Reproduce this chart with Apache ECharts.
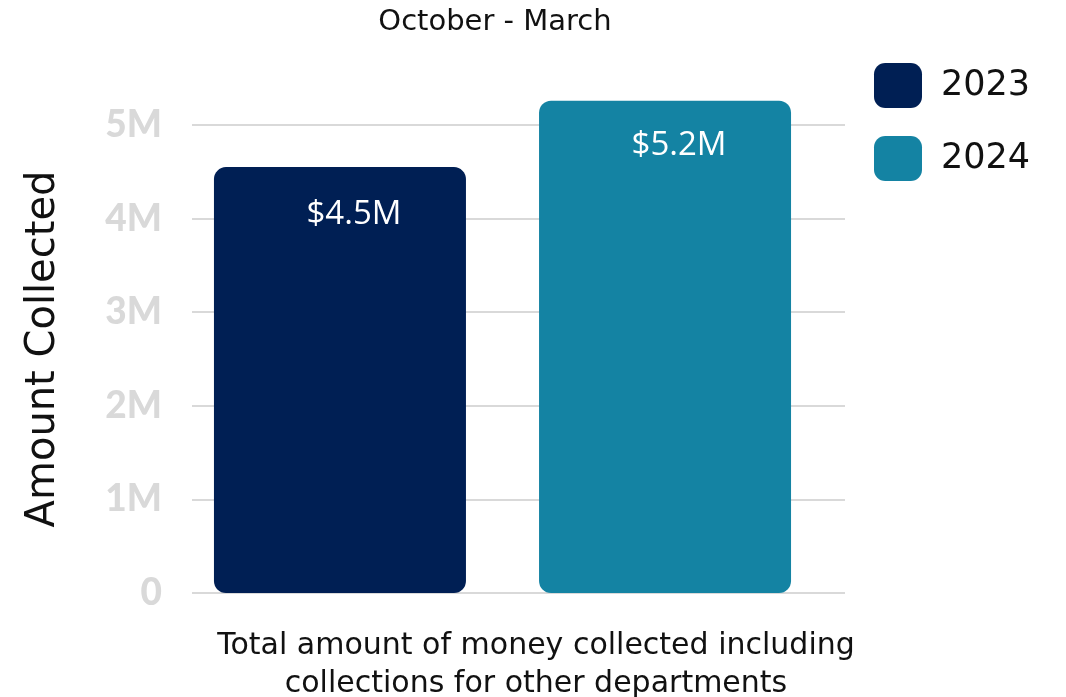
<!DOCTYPE html>
<html>
<head>
<meta charset="utf-8">
<script src="https://cdn.jsdelivr.net/npm/echarts@6/dist/echarts.min.js"></script>
<style>
  html, body { margin: 0; padding: 0; background: #fff; }
  #main { width: 1066px; height: 697px; }
</style>
</head>
<body>
<div id="main"></div>
<script>
// 数据 (单位: 百万)
var years = ['2023', '2024'];
var amounts = [4.55, 5.26];
var barLabels = ['$4.5M', '$5.2M'];
var yTickLabels = ['0', '1M', '2M', '3M', '4M', '5M'];
var colors = ['#001f54', '#1483a3'];

var font = '"DejaVu Sans", sans-serif';

var myChart = echarts.init(document.getElementById('main'));

var series = [];
for (var i = 0; i < years.length; i++) {
	series.push({
		name: years[i],
		type: 'bar',
		xAxisIndex: 0,
		yAxisIndex: 0,
		clip: false,
		data: [amounts[i]],
		barWidth: 252,
		barGap: '29%',
		itemStyle: {
			color: colors[i],
			borderRadius: 12
		},
		label: {
			show: true,
			position: 'insideTop',
			distance: 28,
			offset: [14, i == 0 ? 3 : 0],
			formatter: barLabels[i],
			color: '#fff',
			fontSize: 33,
			fontFamily: '"Open Sans", sans-serif'
		}
	});
}

var option = {
	backgroundColor: '#fff',
	animation: false,
	title: [{
		text: 'October - March',
		left: 490,
		top: 3,
		textAlign: 'center',
		textStyle: { fontFamily: font, fontWeight: 'normal', fontSize: 29, color: '#111' }
	}, {
		text: 'Total amount of money collected including\ncollections for other departments',
		left: 531,
		top: 622,
		textAlign: 'center',
		textStyle: { fontFamily: font, fontWeight: 'normal', fontSize: 30, lineHeight: 38, color: '#111' }
	}],
	legend: {
		orient: 'vertical',
		left: 874,
		top: 63,
		padding: 0,
		icon: 'roundRect',
		itemWidth: 48,
		itemHeight: 45,
		itemGap: 28,
		data: years,
		textStyle: { fontFamily: font, fontSize: 35, color: '#111', padding: [0, 0, 0, 14] }
	},
	grid: [
		// 柱子
		{ left: 176, right: 237, top: 125, bottom: 104 },
		// 网格线和刻度
		{ left: 192, right: 221, top: 125, bottom: 104 }
	],
	xAxis: [
		{ type: 'category', gridIndex: 0, data: [''], show: false },
		{ type: 'category', gridIndex: 1, data: [''], show: false }
	],
	yAxis: [
		{
			type: 'value', gridIndex: 0, min: 0, max: 5, interval: 1,
			axisLine: { show: false }, axisTick: { show: false },
			axisLabel: { show: false }, splitLine: { show: false },
			name: 'Amount Collected',
			nameLocation: 'middle',
			nameGap: 112,
			nameTextStyle: { fontFamily: font, fontSize: 40, color: '#111', padding: [0, 0, 0, 20] }
		},
		{
			type: 'value', gridIndex: 1, min: 0, max: 5, interval: 1,
			axisLine: { show: false }, axisTick: { show: false },
			axisLabel: {
				margin: 30,
				color: '#d9d9d9',
				fontSize: 37,
				fontWeight: 900,
				fontFamily: 'Lato, sans-serif',
				formatter: function (v) { return yTickLabels[Math.round(v)]; }
			},
			splitLine: { lineStyle: { color: '#d9d9d9', width: 2 } }
		}
	],
	series: series
};

myChart.setOption(option);
</script>
</body>
</html>
